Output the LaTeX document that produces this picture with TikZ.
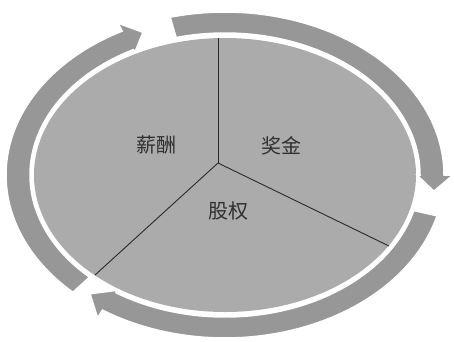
\documentclass[tikz,border=0pt]{standalone}
\usepackage{fontspec}
\newfontfamily\cjk{Noto Sans CJK SC}
\definecolor{diskgray}{HTML}{ABABAB}
\definecolor{bandgray}{HTML}{979797}
\definecolor{linegray}{HTML}{2A2A2A}
\definecolor{textgray}{HTML}{303030}
\tikzset{
  disk/.style={fill=diskgray},
  band/.style={fill=bandgray, draw=white, line width=1.5pt, line join=miter},
  divider/.style={draw=linegray, line width=0.9pt},
  label/.style={font=\cjk\fontsize{20}{24}\selectfont, text=textgray, inner sep=0pt}
}
% #1 start angle, #2 head back angle, #3 tip angle
\newcommand{\circarrow}[3]{%
  \path[band]
    plot[domain=#1:#2, samples=70] ({225+195*cos(\x)},{175-142*sin(\x)})
    -- ({225+192*cos(#2)},{175-139*sin(#2)})
    -- ({225+210*cos(#3)},{175-155*sin(#3)})
    -- ({225+228*cos(#2)},{175-172*sin(#2)})
    -- plot[domain=#2:#1, samples=70] ({225+219*cos(\x)},{175-163*sin(\x)})
    -- cycle;}
\begin{document}
\begin{tikzpicture}[x=1pt,y=-1pt]
  \path[fill=white] (0,0) rectangle (454,341);
  \useasboundingbox (0,0) rectangle (454,341);
  % disk
  \path[disk] (225,175) ellipse [x radius=191, y radius=137];
  % circular arrows
  \circarrow{104.5}{0}{-6}
  \circarrow{-14.5}{-124}{-130}
  \circarrow{226}{118}{113}
  % dividers
  \coordinate (J) at (218,163);
  \coordinate (T) at (218,38);
  \coordinate (R) at (389,246);
  \coordinate (L) at (95,275);
  \draw[divider] (J) -- (T);
  \draw[divider] (J) -- (R);
  \draw[divider] (J) -- (L);
  % labels
  \node[label] (xinchou) at (156.5,145) {薪酬};
  \node[label] (jiangjin) at (281,146) {奖金};
  \node[label] (guquan) at (228,211) {股权};
\end{tikzpicture}
\end{document}
